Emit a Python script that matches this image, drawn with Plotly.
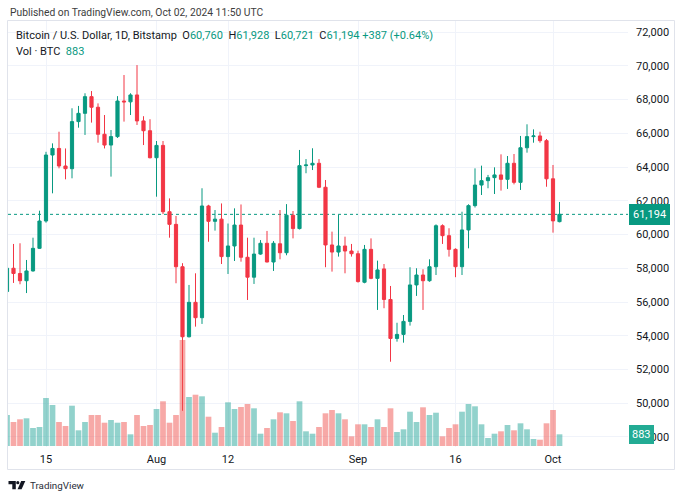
import plotly.graph_objects as go

# ---------------- data ----------------
dates = [
    "2024-07-09", "2024-07-10", "2024-07-11", "2024-07-12", "2024-07-13", "2024-07-14", "2024-07-15",
    "2024-07-16", "2024-07-17", "2024-07-18", "2024-07-19", "2024-07-20", "2024-07-21", "2024-07-22",
    "2024-07-23", "2024-07-24", "2024-07-25", "2024-07-26", "2024-07-27", "2024-07-28", "2024-07-29",
    "2024-07-30", "2024-07-31", "2024-08-01", "2024-08-02", "2024-08-03", "2024-08-04", "2024-08-05",
    "2024-08-06", "2024-08-07", "2024-08-08", "2024-08-09", "2024-08-10", "2024-08-11", "2024-08-12",
    "2024-08-13", "2024-08-14", "2024-08-15", "2024-08-16", "2024-08-17", "2024-08-18", "2024-08-19",
    "2024-08-20", "2024-08-21", "2024-08-22", "2024-08-23", "2024-08-24", "2024-08-25", "2024-08-26",
    "2024-08-27", "2024-08-28", "2024-08-29", "2024-08-30", "2024-08-31", "2024-09-01", "2024-09-02",
    "2024-09-03", "2024-09-04", "2024-09-05", "2024-09-06", "2024-09-07", "2024-09-08", "2024-09-09",
    "2024-09-10", "2024-09-11", "2024-09-12", "2024-09-13", "2024-09-14", "2024-09-15", "2024-09-16",
    "2024-09-17", "2024-09-18", "2024-09-19", "2024-09-20", "2024-09-21", "2024-09-22", "2024-09-23",
    "2024-09-24", "2024-09-25", "2024-09-26", "2024-09-27", "2024-09-28", "2024-09-29", "2024-09-30",
    "2024-10-01", "2024-10-02",
]
opens = [
    56620, 58000, 57690, 57260, 57840, 59180, 60800,
    64710, 65100, 64060, 63900, 66690, 67180, 68170,
    67540, 65940, 65300, 65800, 67910, 67860, 68270,
    66730, 66150, 64550, 65280, 61350, 60600, 58090,
    53940, 55980, 55070, 61690, 60780, 60910, 58690,
    59320, 60560, 58650, 57470, 58840, 59480, 58370,
    59450, 58920, 61140, 60350, 64080, 64120, 64220,
    62800, 59380, 58960, 59320, 59020, 58860, 57170,
    59120, 57400, 57960, 56150, 53840, 54080, 54850,
    57010, 57600, 57260, 58090, 60520, 59930, 59120,
    58090, 60270, 61710, 62930, 63190, 63370, 63530,
    63270, 64220, 63090, 65140, 65800, 65840, 65560,
    63300, 60760,
]
highs = [
    58300, 59440, 59480, 58490, 59810, 61410, 64900,
    65400, 66090, 65100, 67480, 67620, 68370, 68500,
    67770, 67080, 66190, 68200, 69450, 68370, 70040,
    67010, 66830, 65540, 65540, 62140, 61100, 58300,
    57010, 57700, 62740, 61760, 61450, 61840, 60650,
    61550, 61780, 59810, 59810, 59670, 60210, 59610,
    61450, 61800, 61390, 65010, 64470, 65110, 64470,
    63230, 60170, 61160, 59870, 59440, 59040, 59380,
    59770, 58450, 58250, 56950, 54770, 55230, 58060,
    58000, 57940, 58530, 60600, 60600, 60370, 59180,
    61350, 61790, 63920, 64080, 63530, 63980, 64750,
    64650, 64770, 65840, 66530, 66230, 66090, 65660,
    64120, 61928,
]
lows = [
    56300, 57130, 57050, 56530, 57800, 59150, 60700,
    62440, 63920, 63270, 63330, 66330, 65900, 66630,
    65440, 65100, 63430, 65720, 66690, 67080, 66490,
    65300, 64510, 62240, 61210, 59810, 57110, 49550,
    53900, 54540, 54700, 59570, 60230, 58250, 57660,
    58430, 58390, 56120, 57070, 58800, 58350, 57840,
    58530, 58770, 59770, 60300, 63630, 63820, 62750,
    58060, 57800, 58690, 57700, 58690, 57150, 57110,
    57350, 55530, 55630, 52460, 53650, 53590, 54600,
    56360, 55530, 57200, 57600, 59440, 58690, 57470,
    57600, 59180, 61600, 62340, 62740, 62400, 62600,
    62700, 62970, 62640, 64850, 65440, 65440, 62830,
    60110, 60721,
]
closes = [
    58000, 57690, 57260, 57840, 59180, 60800, 64710,
    65100, 64060, 63900, 66690, 67180, 68170, 67540,
    65940, 65300, 65800, 67910, 67860, 68270, 66730,
    66150, 64550, 65280, 61350, 60600, 58090, 53940,
    55980, 55070, 61690, 60780, 60910, 58690, 59320,
    60560, 58650, 57470, 58840, 59480, 58370, 59480,
    58920, 61140, 60350, 64080, 64120, 64220, 62800,
    59380, 58960, 59320, 59020, 58860, 57210, 59120,
    57400, 57900, 56150, 53840, 54080, 54850, 57010,
    57600, 57260, 58090, 60520, 59930, 59120, 58090,
    60270, 61710, 62930, 63190, 63370, 63530, 63270,
    64220, 63090, 65140, 65800, 65840, 65560, 63300,
    60807, 61194,
]
volumes = [
    2340, 1812, 2016, 2091, 1359, 1435, 3624,
    3096, 1812, 1510, 3043, 1185, 1812, 2340,
    2340, 1759, 1963, 1759, 1812, 883, 2340,
    1510, 1586, 2794, 3375, 1759, 2340, 8003,
    3700, 3873, 3752, 2212, 1004, 1435, 3299,
    2794, 2945, 3171, 2846, 929, 1359, 2016,
    2544, 2469, 1888, 3375, 1110, 929, 1435,
    2469, 2718, 2469, 2016, 732, 1638, 1638,
    1435, 2016, 1435, 2846, 1057, 1261, 2590,
    1812, 2922, 2340, 2514, 732, 1359, 1638,
    2590, 3171, 2997, 1638, 604, 929, 1110,
    1586, 1185, 1714, 1261, 529, 476, 1714,
    2718, 883,
]

price_ticks = list(range(48000, 72001, 2000))
time_tick_vals = ["2024-07-15", "2024-08-01", "2024-08-12", "2024-09-01", "2024-09-16", "2024-10-01"]
time_tick_text = ["15", "Aug", "12", "Sep", "16", "Oct"]

last_open, last_high, last_low, last_close = opens[-1], highs[-1], lows[-1], closes[-1]
change = last_close - closes[-2]
change_pct = change / closes[-2] * 100

# ---------------- style ----------------
UP = "#089981"
DOWN = "#f23645"
VOL_UP = "rgba(38,166,154,0.5)"
VOL_DOWN = "rgba(239,83,80,0.5)"
GRID = "#f0f3fa"
TEXT = "#131722"
FONT = "Roboto, 'Liberation Sans', sans-serif"

W, H = 683, 500
L, R, T, B = 8, 55, 21, 53
PW, PH = W - L - R, H - T - B


def pxx(p):
    return (p - L) / PW


def pxy(p):
    return (H - B - p) / PH


vol_colors = [VOL_UP if c >= o else VOL_DOWN for o, c in zip(opens, closes)]

fig = go.Figure()
fig.add_trace(go.Bar(
    x=dates, y=volumes, yaxis="y2", marker=dict(color=vol_colors, line=dict(width=0)),
    hoverinfo="skip", showlegend=False,
))
fig.add_trace(go.Candlestick(
    x=dates, open=opens, high=highs, low=lows, close=closes,
    increasing=dict(line=dict(color=UP, width=1), fillcolor=UP),
    decreasing=dict(line=dict(color=DOWN, width=1), fillcolor=DOWN),
    hoverinfo="skip", showlegend=False,
))

shapes = [
    # last price dotted line
    dict(type="line", xref="paper", yref="y", x0=0, x1=1, y0=last_close, y1=last_close,
         line=dict(color=UP, width=1, dash="dot"), layer="below"),
    # outer frame
    dict(type="rect", xref="paper", yref="paper", x0=pxx(7.5), x1=pxx(674.5), y0=pxy(469.5), y1=pxy(20.5),
         line=dict(color="#e0e3eb", width=1), layer="below"),
]


def path(points):
    return "M " + " L ".join(f"{pxx(a):.5f},{pxy(b):.5f}" for a, b in points) + " Z"


# TradingView logo (decoration)
shapes.append(dict(type="path", xref="paper", yref="paper",
                   path=path([(8.5, 481), (15.8, 481), (15.8, 489.2), (12.3, 489.2), (12.3, 484.3), (8.5, 484.3)]),
                   fillcolor="#131722", line=dict(width=0)))
shapes.append(dict(type="circle", xref="paper", yref="paper",
                   x0=pxx(16.2), x1=pxx(19.4), y0=pxy(484.3), y1=pxy(481.1),
                   fillcolor="#131722", line=dict(width=0)))
shapes.append(dict(type="path", xref="paper", yref="paper",
                   path=path([(21.2, 481), (25.3, 481), (21.6, 489.2), (17.6, 489.2)]),
                   fillcolor="#131722", line=dict(width=0)))

g = lambda s: f"<span style='color:{UP}'>{s}</span>"
legend1 = ("Bitcoin / U.S. Dollar, 1D, Bitstamp&nbsp;&nbsp;"
           f"O{g(f'{last_open:,}')}&nbsp;&nbsp;H{g(f'{last_high:,}')}&nbsp;&nbsp;"
           f"L{g(f'{last_low:,}')}&nbsp;&nbsp;C{g(f'{last_close:,}')}&nbsp;"
           f"{g(f'+{change:,} (+{change_pct:.2f}%)')}")
legend2 = f"Vol · BTC&nbsp;&nbsp;{g(f'{volumes[-1]:,}')}"

annotations = [
    dict(xref="paper", yref="paper", x=pxx(8), y=pxy(12), xanchor="left", yanchor="middle",
         text="Published on TradingView.com, Oct 02, 2024 11:50 UTC", showarrow=False,
         font=dict(size=10.3, color="#3d3d3d", family=FONT)),
    dict(xref="paper", yref="paper", x=pxx(14), y=pxy(36), xanchor="left", yanchor="middle",
         text=legend1, showarrow=False, font=dict(size=11, color=TEXT, family=FONT)),
    dict(xref="paper", yref="paper", x=pxx(14), y=pxy(51), xanchor="left", yanchor="middle",
         text=legend2, showarrow=False, font=dict(size=11, color=TEXT, family=FONT)),
    dict(xref="paper", yref="y", x=pxx(629), y=last_close, xanchor="left", yanchor="middle",
         text=f"{last_close:,}", showarrow=False, bgcolor=UP, bordercolor=UP, borderwidth=1, borderpad=3,
         font=dict(size=11, color="white", family=FONT)),
    dict(xref="paper", yref="y2", x=pxx(629), y=volumes[-1], xanchor="left", yanchor="middle",
         text=f"{volumes[-1]:,}", showarrow=False, bgcolor="#22ab94", bordercolor="#22ab94", borderwidth=1,
         borderpad=2, font=dict(size=11, color="white", family=FONT)),
    dict(xref="paper", yref="paper", x=pxx(27.5), y=pxy(485), xanchor="left", yanchor="middle",
         text="TradingView", showarrow=False, font=dict(size=9.8, color="#2a2e39", family=FONT)),
]

fig.update_layout(
    width=W, height=H, margin=dict(l=L, r=R, t=T, b=B),
    paper_bgcolor="white", plot_bgcolor="white",
    font=dict(family=FONT, size=11, color=TEXT),
    showlegend=False, hovermode=False, dragmode=False, bargap=0.12,
    xaxis=dict(
        type="date", range=["2024-07-09 03:41", "2024-10-12 12:55"],
        tickvals=time_tick_vals, ticktext=time_tick_text,
        showgrid=True, gridcolor=GRID, gridwidth=1, zeroline=False, showline=False,
        ticks="", ticklabelstandoff=4, tickfont=dict(size=11, color=TEXT),
        rangeslider=dict(visible=False), fixedrange=True,
    ),
    yaxis=dict(
        range=[47407, 72652], side="right", tickvals=price_ticks, tickformat=",d",
        showgrid=True, gridcolor=GRID, gridwidth=1, zeroline=False, showline=False,
        ticks="", ticklabelstandoff=7, tickfont=dict(size=11, color=TEXT), fixedrange=True,
    ),
    yaxis2=dict(
        overlaying="y", range=[-75, 32090], showticklabels=False, showgrid=False,
        zeroline=False, showline=False, fixedrange=True,
    ),
    shapes=shapes, annotations=annotations,
)

fig.write_html(
    "out.html",
    config={"displayModeBar": False, "staticPlot": True},
    post_script="document.body.style.margin='0';document.body.style.overflow='hidden';",
)
